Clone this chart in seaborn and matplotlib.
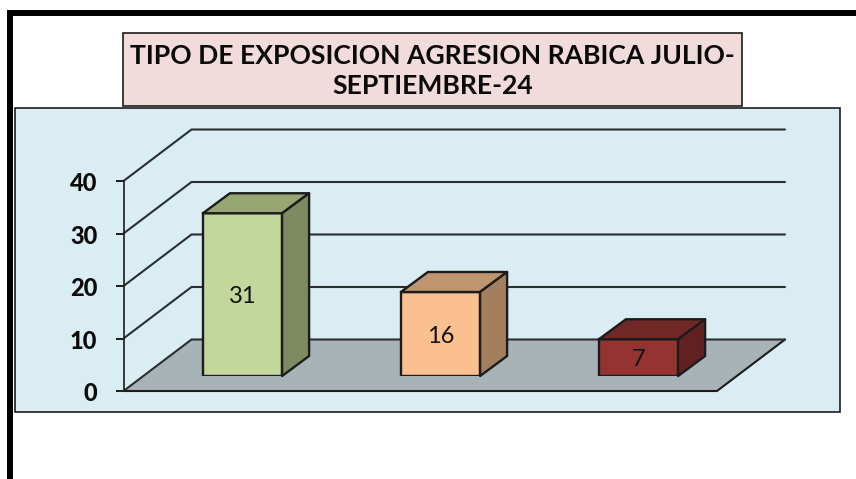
import pandas as pd
import matplotlib
matplotlib.use("Agg")
import matplotlib.pyplot as plt
from matplotlib.patches import Polygon, Rectangle
from matplotlib.transforms import ScaledTranslation
import seaborn as sns

categorias = ["Tipo 1", "Tipo 2", "Tipo 3"]
casos = [31, 16, 7]
ticks_y = [0, 10, 20, 30, 40]
titulo = "TIPO DE EXPOSICION AGRESION RABICA JULIO-\nSEPTIEMBRE-24"

color_frente = ["#c3d69b", "#fac090", "#933432"]
color_arriba = ["#98a672", "#bf9570", "#6f2826"]
color_lado = ["#7e8a62", "#a37f5e", "#612120"]

W, H = 856, 479
EJE_IZQ, EJE_DER, Y_CERO, Y_CUARENTA = 123.5, 717, 391, 181
PX_POR_UNIDAD = (Y_CERO - Y_CUARENTA) / 40
BASE_BARRAS = 376
DX_PARED, DY_PARED = 68, 51.5
DX_BARRA, DY_BARRA = 27, 20
LINEA = "#1c1c1c"

sns.set_theme(style="white")
plt.rcParams["font.family"] = ["Lato", "DejaVu Sans"]


def ejes_px(fig, izq, arriba, der, abajo):
    return fig.add_axes([izq / W, 1 - abajo / H, (der - izq) / W, (abajo - arriba) / H])


fig = plt.figure(figsize=(W / 100, H / 100), dpi=100, facecolor="white")

# marco, panel y caja del titulo
fondo = ejes_px(fig, 0, 0, W, H)
fondo.set_xlim(0, W)
fondo.set_ylim(H, 0)
fondo.axis("off")
fondo.plot([10, 10, W], [H, 12.5, 12.5], color="black", lw=4.3, solid_joinstyle="miter")
fondo.add_patch(Rectangle((15.5, 107.5), 824.5, 304, fc="#daedf3", ec=LINEA, lw=1.2))
fondo.add_patch(Rectangle((123, 32.5), 619, 73.5, fc="#f2dcdb", ec=LINEA, lw=1.2))
fondo.text(432.5, 71, titulo, ha="center", va="center", fontsize=19.05, fontweight="bold",
           color="#0a0a0a", linespacing=1.3)

# pared y piso: x en pixeles, y en casos
pared = ejes_px(fig, EJE_IZQ, Y_CUARENTA, EJE_DER, Y_CERO)
pared.set_xlim(EJE_IZQ, EJE_DER)
pared.set_ylim(0, 40)
pared.patch.set_alpha(0)
for lado in ["top", "right", "bottom"]:
    pared.spines[lado].set_visible(False)
pared.spines["left"].set_color(LINEA)
pared.spines["left"].set_linewidth(1.2)
pared.set_xticks([])
pared.set_yticks(ticks_y)
pared.tick_params(axis="y", left=True, length=6, width=1.4, color=LINEA, pad=13, labelsize=17)
baja = ScaledTranslation(0, -0.5 / 72, fig.dpi_scale_trans)
for etiqueta in pared.get_yticklabels():
    etiqueta.set_fontweight("black")
    etiqueta.set_color("#0a0a0a")
    etiqueta.set_transform(etiqueta.get_transform() + baja)

dy = DY_PARED / PX_POR_UNIDAD
pared.add_patch(Polygon([(EJE_IZQ, 0), (EJE_IZQ + DX_PARED, dy), (EJE_DER + DX_PARED, dy), (EJE_DER, 0)],
                        closed=False, fc="#a7b3b7", ec="none", clip_on=False, zorder=1))
pared.plot([EJE_IZQ, EJE_DER, EJE_DER + DX_PARED], [0, 0, dy], color=LINEA, lw=1.5,
           clip_on=False, zorder=2)
for v in ticks_y:
    pared.plot([EJE_IZQ, EJE_IZQ + DX_PARED, EJE_DER + DX_PARED], [v, v + dy, v + dy],
               color="#2a2f31", lw=1.5, clip_on=False, zorder=2)

# barras
datos = pd.DataFrame({"tipo": categorias, "casos": casos})
barras = ejes_px(fig, 143.5, BASE_BARRAS - 210, 737.5, BASE_BARRAS)
barras.patch.set_alpha(0)
sns.barplot(data=datos, x="tipo", y="casos", hue="tipo", palette=color_frente, width=0.4,
            dodge=False, legend=False, edgecolor=LINEA, linewidth=1.7, saturation=1, ax=barras)
barras.set_xlim(-0.5, 2.5)
barras.set_ylim(0, 40)
barras.axis("off")

ancho_cat = (737.5 - 143.5) / 3
dx_b = DX_BARRA / ancho_cat
dy_b = DY_BARRA / PX_POR_UNIDAD
for i, contenedor in enumerate(barras.containers):
    barra = contenedor[0]
    x0, x1, y1 = barra.get_x(), barra.get_x() + barra.get_width(), barra.get_height()
    barras.add_patch(Polygon([(x0, y1), (x0 + dx_b, y1 + dy_b), (x1 + dx_b, y1 + dy_b), (x1, y1)],
                             fc=color_arriba[i], ec=LINEA, lw=1.7, clip_on=False, joinstyle="round"))
    barras.add_patch(Polygon([(x1, 0), (x1 + dx_b, dy_b), (x1 + dx_b, y1 + dy_b), (x1, y1)],
                             fc=color_lado[i], ec=LINEA, lw=1.7, clip_on=False, joinstyle="round"))
    for etiqueta in barras.bar_label(contenedor, label_type="center", fontsize=17, color="#111111"):
        etiqueta.xyann = (0, -1.5)

fig.savefig("out.png", dpi=100)
